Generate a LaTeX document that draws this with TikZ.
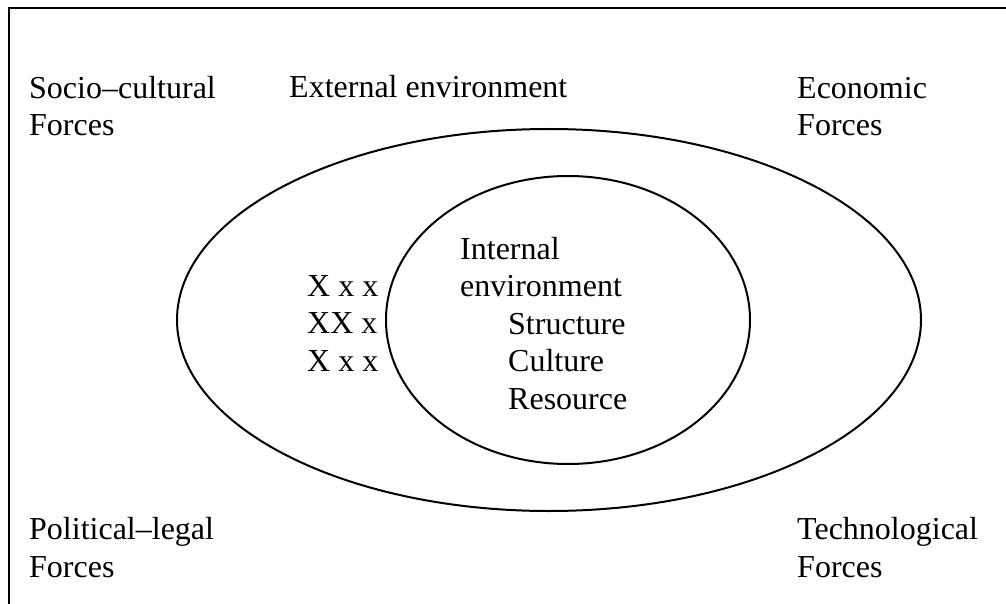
\documentclass[tikz,border=0pt]{standalone}
\usepackage{fontspec}
\setmainfont{Liberation Serif}
\usetikzlibrary{shapes.geometric}
\begin{document}
\begin{tikzpicture}[x=1pt,y=-1pt,
  lbl/.style={anchor=base west,inner sep=0pt,align=left,font=\fontsize{32}{37.5}\selectfont},
  ring/.style={draw=black,line width=2pt,fill=white,ellipse,inner sep=0pt,outer sep=0pt}]
\useasboundingbox (0,0) rectangle (1006,604);
% frame (top and left edges only visible)
\coordinate (fl) at (9,604);
\coordinate (fc) at (9,8);
\coordinate (fr) at (1006,8);
\draw[line width=2.2pt] (fl) -- (fc) -- (fr);
% outer ellipse
\node[ring,minimum width=744pt,minimum height=382pt] (outer) at (549,320) {};
% labels (anchor = baseline of the last line)
\node[lbl] (socio) at (29,136) {Socio–cultural\\Forces};
\node[lbl] (ext) at (289,98) {External environment};
\node[lbl] (econ) at (797,136) {Economic\\Forces};
\node[lbl] (pol) at (29,577) {Political–legal\\Forces};
\node[lbl] (tech) at (797,577) {Technological\\Forces};
\node[lbl] (xs) at (307,371) {X x x\\XX x x\\X x x};
% inner ellipse
\node[ring,minimum width=364pt,minimum height=288pt] (inner) at (568,320) {};
\node[lbl] (int) at (460,409) {Internal\\environment\\\hspace*{48pt}Structure\\\hspace*{48pt}Culture\\\hspace*{48pt}Resource};
\end{tikzpicture}
\end{document}
